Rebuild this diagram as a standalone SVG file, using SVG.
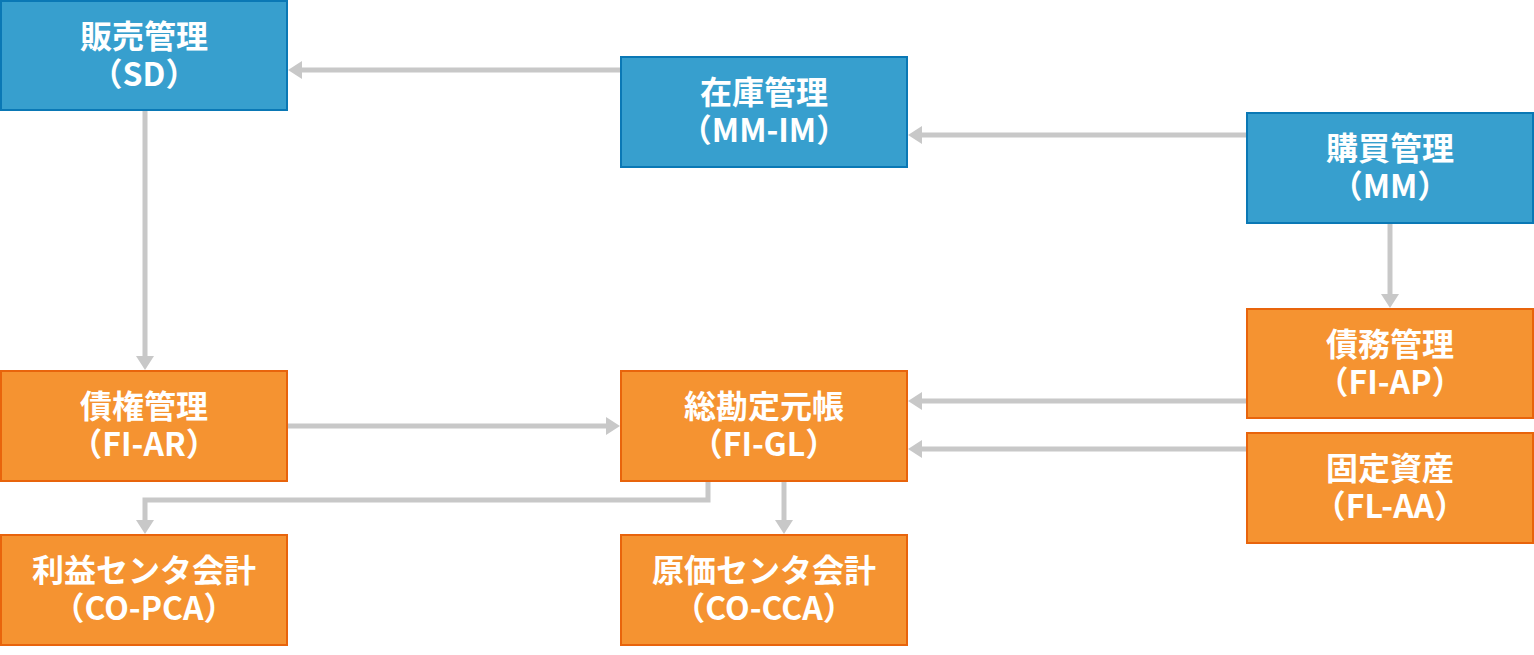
<svg xmlns="http://www.w3.org/2000/svg" width="1534" height="655" viewBox="0 0 1534 655">
<defs>
<style>
.b{fill:#379fce;stroke:#0a78b5;stroke-width:2}
.o{fill:#f59331;stroke:#e8640c;stroke-width:2}
.t{fill:#fff;font-family:"Noto Sans CJK JP","Noto Sans",sans-serif;font-weight:bold;font-size:32px;text-anchor:middle}
.c{fill:none;stroke:#c8c8c8;stroke-width:5}
</style>
<marker id="ah" markerUnits="userSpaceOnUse" markerWidth="14" markerHeight="18" refX="0" refY="9" orient="auto">
<path d="M0,0 L14,9 L0,18 Z" fill="#c8c8c8"/>
</marker>
</defs>
<g id="connectors">
<path class="c" d="M620,70 H302" marker-end="url(#ah)"/>
<path class="c" d="M1246,135 H922" marker-end="url(#ah)"/>
<path class="c" d="M145,111 V356" marker-end="url(#ah)"/>
<path class="c" d="M1390,223 V294" marker-end="url(#ah)"/>
<path class="c" d="M288,426 H606" marker-end="url(#ah)"/>
<path class="c" d="M1246,401 H922" marker-end="url(#ah)"/>
<path class="c" d="M1246,449 H922" marker-end="url(#ah)"/>
<path class="c" d="M708,482 V500 H145 V520" marker-end="url(#ah)"/>
<path class="c" d="M784,482 V520" marker-end="url(#ah)"/>
</g>
<g id="sd"><rect class="b" x="1" y="1" width="286" height="109"/><text class="t" x="144" y="48">販売管理</text><text class="t" x="144" y="86">（SD）</text></g>
<g id="mm-im"><rect class="b" x="621" y="57" width="286" height="110"/><text class="t" x="764" y="104">在庫管理</text><text class="t" x="764" y="142">（MM-IM）</text></g>
<g id="mm"><rect class="b" x="1247" y="113" width="286" height="110"/><text class="t" x="1390" y="160">購買管理</text><text class="t" x="1390" y="198">（MM）</text></g>
<g id="fi-ap"><rect class="o" x="1247" y="309" width="286" height="109"/><text class="t" x="1390" y="356">債務管理</text><text class="t" x="1390" y="394">（FI-AP）</text></g>
<g id="fi-ar"><rect class="o" x="1" y="371" width="286" height="110"/><text class="t" x="144" y="418">債権管理</text><text class="t" x="144" y="456">（FI-AR）</text></g>
<g id="fi-gl"><rect class="o" x="621" y="371" width="286" height="110"/><text class="t" x="764" y="418">総勘定元帳</text><text class="t" x="764" y="456">（FI-GL）</text></g>
<g id="fl-aa"><rect class="o" x="1247" y="433" width="286" height="110"/><text class="t" x="1390" y="480">固定資産</text><text class="t" x="1390" y="518">（FL-AA）</text></g>
<g id="co-pca"><rect class="o" x="1" y="535" width="286" height="110"/><text class="t" x="144" y="582">利益センタ会計</text><text class="t" x="144" y="620">（CO-PCA）</text></g>
<g id="co-cca"><rect class="o" x="621" y="535" width="286" height="110"/><text class="t" x="764" y="582">原価センタ会計</text><text class="t" x="764" y="620">（CO-CCA）</text></g>
</svg>
